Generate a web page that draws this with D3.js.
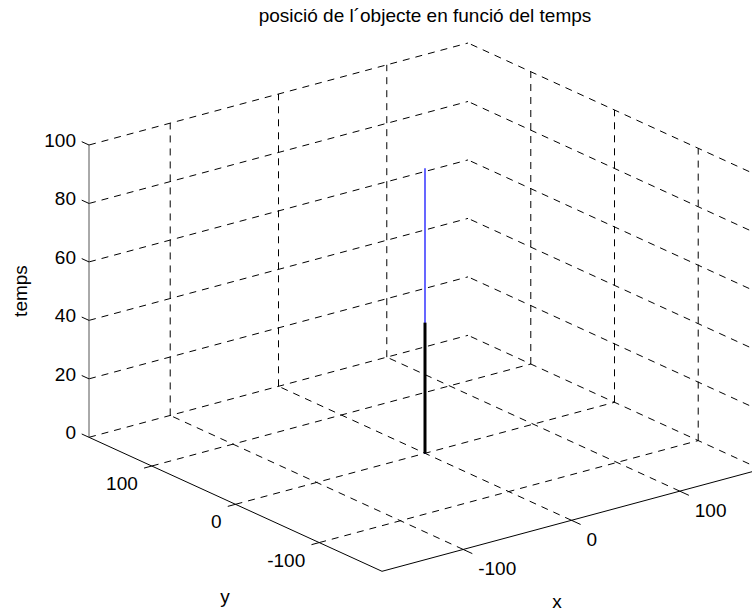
<!DOCTYPE html>
<html><head><meta charset="utf-8">
<script src="https://cdn.jsdelivr.net/npm/d3@7"></script>
<style>
html,body{margin:0;padding:0;background:#fff;}
svg{display:block;font-family:"Liberation Sans",Arial,sans-serif;}
</style>
</head><body>
<script>
// axis limits and ticks
const xLimits = [-175, 175];
const yLimits = [-175, 175];
const zLimits = [0, 100];
const xTicks = [-100, 0, 100];
const yTicks = [-100, 0, 100];
const zTicks = [0, 20, 40, 60, 80, 100];

// object trajectory: position (x, y) against time
const pathX = [0, 0];
const pathY = [0, 0];
const pathT = [0, 97.5];
// stretch already travelled
const doneX = [0, 0];
const doneY = [0, 0];
const doneT = [0, 44.7];

const titleText = "posició de l´objecte en funció del temps";
const xLabel = "x", yLabel = "y", zLabel = "temps";

const W = 752, H = 613;
const FS = 19;
const svg = d3.select("body").append("svg").attr("width", W).attr("height", H);

// 3-D view: screen position of the (xmin, ymax, zmin) corner and screen span of each axis
const origin = [89, 437.3];
const spanX = [379, -102];   // xmin -> xmax
const spanY = [293, 134];    // ymax -> ymin
const spanZ = [0, -292.3];   // zmin -> zmax
const sx = d3.scaleLinear().domain(xLimits).range([0, 1]);
const sy = d3.scaleLinear().domain(yLimits).range([1, 0]);
const sz = d3.scaleLinear().domain(zLimits).range([0, 1]);
function proj(x, y, z) {
  const a = sx(x), b = sy(y), c = sz(z);
  return [origin[0] + a * spanX[0] + b * spanY[0] + c * spanZ[0],
          origin[1] + a * spanX[1] + b * spanY[1] + c * spanZ[1]];
}
const line = d3.line();
const [x0, x1] = xLimits, [y0, y1] = yLimits, [z0, z1] = zLimits;

// grid on the floor and the two back walls
const grid = [];
xTicks.forEach(x => {
  grid.push([[x, y0, z0], [x, y1, z0]]);
  grid.push([[x, y1, z0], [x, y1, z1]]);
});
yTicks.forEach(y => {
  grid.push([[x0, y, z0], [x1, y, z0]]);
  grid.push([[x1, y, z0], [x1, y, z1]]);
});
zTicks.forEach(z => {
  grid.push([[x0, y1, z], [x1, y1, z]]);
  grid.push([[x1, y0, z], [x1, y1, z]]);
});
svg.append("g").selectAll("path").data(grid).join("path")
  .attr("d", d => line(d.map(p => proj(...p))))
  .attr("fill", "none").attr("stroke", "#000").attr("stroke-width", 1)
  .attr("stroke-dasharray", "7,6");

// axis lines
const axes = [
  [[x0, y0, z0], [x1, y0, z0]],
  [[x0, y1, z0], [x0, y0, z0]],
  [[x0, y1, z0], [x0, y1, z1]]
];
svg.append("g").selectAll("path").data(axes).join("path")
  .attr("d", d => line(d.map(p => proj(...p))))
  .attr("fill", "none").attr("stroke", (d, i) => i === 2 ? "#555" : "#000").attr("stroke-width", 1);

function unit(v, s) { const n = Math.hypot(v[0], v[1]); return [v[0] / n * s, v[1] / n * s]; }
const xTickDir = unit(spanY, 10);
const yTickDir = unit([-spanX[0], -spanX[1]], 8);
const zTickDir = unit([-spanY[0], -spanY[1]], 8);

const ticks = svg.append("g").attr("stroke", "#000").attr("stroke-width", 1);
const labels = svg.append("g").attr("font-size", FS).attr("fill", "#000");

xTicks.forEach(x => {
  const p = proj(x, y0, z0);
  ticks.append("line").attr("x1", p[0]).attr("y1", p[1])
    .attr("x2", p[0] + xTickDir[0]).attr("y2", p[1] + xTickDir[1]);
  labels.append("text").attr("x", p[0] + 15).attr("y", p[1] + 26)
    .attr("text-anchor", "start").text(x);
});
yTicks.forEach(y => {
  const p = proj(x0, y, z0);
  ticks.append("line").attr("x1", p[0]).attr("y1", p[1])
    .attr("x2", p[0] + yTickDir[0]).attr("y2", p[1] + yTickDir[1]);
  labels.append("text").attr("x", p[0] - 14).attr("y", p[1] + 24)
    .attr("text-anchor", "end").text(y);
});
zTicks.forEach(z => {
  const p = proj(x0, y1, z);
  ticks.append("line").attr("x1", p[0]).attr("y1", p[1])
    .attr("x2", p[0] + zTickDir[0]).attr("y2", p[1] + zTickDir[1]);
  labels.append("text").attr("x", p[0] - 13).attr("y", p[1] + 2)
    .attr("text-anchor", "end").text(z);
});

// trajectory
const pathPts = pathT.map((t, i) => proj(pathX[i], pathY[i], t));
svg.append("path").attr("d", line(pathPts))
  .attr("fill", "none").attr("stroke", "#0000ff").attr("stroke-width", 1.2);
const donePts = doneT.map((t, i) => proj(doneX[i], doneY[i], t));
svg.append("path").attr("d", line(donePts))
  .attr("fill", "none").attr("stroke", "#000").attr("stroke-width", 3);

// title and axis names
svg.append("text").attr("x", 425).attr("y", 22).attr("text-anchor", "middle")
  .attr("font-size", FS).text(titleText);
svg.append("text").attr("x", 225).attr("y", 603).attr("text-anchor", "middle")
  .attr("font-size", FS).text(yLabel);
svg.append("text").attr("x", 557).attr("y", 608).attr("text-anchor", "middle")
  .attr("font-size", FS).text(xLabel);
svg.append("text").attr("transform", "translate(27,291) rotate(-90)")
  .attr("text-anchor", "middle").attr("font-size", FS).text(zLabel);
</script>
</body></html>
